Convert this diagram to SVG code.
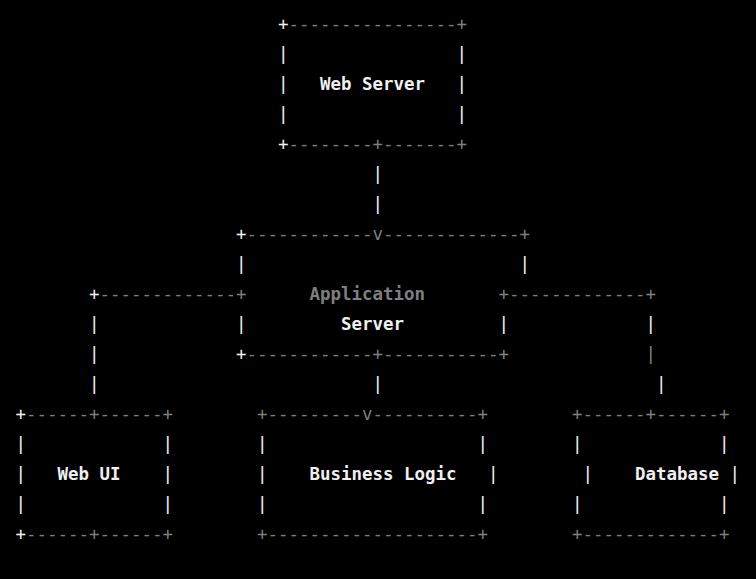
<svg xmlns="http://www.w3.org/2000/svg" width="756" height="579" viewBox="0 0 756 579">
<style>
text{font-family:"DejaVu Sans Mono","Liberation Mono",monospace;font-size:17.44px;white-space:pre}
.w{fill:#f0f0f0}
.g{fill:#7f7f7f}
.b{font-weight:bold}
</style>
<rect width="756" height="579" fill="#000"/>
<g id="web-server">
<text class="w" x="277.95" y="30">+</text><text class="g" x="288.45" y="30">----------------+</text>
<text class="w" x="277.95" y="60">|</text><text class="w" x="456.45" y="60">|</text>
<text class="w" x="277.95" y="90">|</text><text class="w b" x="319.95" y="90">Web Server</text><text class="w" x="456.45" y="90">|</text>
<text class="w" x="277.95" y="120">|</text><text class="w" x="456.45" y="120">|</text>
<text class="w" x="277.95" y="150">+</text><text class="g" x="288.45" y="150">--------+-------+</text>
</g>
<g id="application-server">
<text class="w" x="235.95" y="240">+</text><text class="g" x="246.45" y="240">------------v-------------+</text>
<text class="w" x="235.95" y="270">|</text><text class="w" x="519.45" y="270">|</text>
<text class="g b" x="309.45" y="300">Application</text>
<text class="w" x="235.95" y="330">|</text><text class="w b" x="340.95" y="330">Server</text><text class="w" x="498.45" y="330">|</text>
<text class="w" x="235.95" y="360">+</text><text class="g" x="246.45" y="360">------------+-----------+</text>
</g>
<g id="connectors">
<text class="w" x="372.45" y="180">|</text>
<text class="w" x="372.45" y="210">|</text>
<text class="w" x="88.95" y="300">+</text><text class="g" x="99.45" y="300">-------------+</text>
<text class="w" x="88.95" y="330">|</text>
<text class="w" x="88.95" y="360">|</text>
<text class="w" x="88.95" y="390">|</text>
<text class="g" x="498.45" y="300">+-------------+</text>
<text class="w" x="645.45" y="330">|</text>
<text class="g" x="645.45" y="360">|</text>
<text class="w" x="655.95" y="390">|</text>
<text class="w" x="372.45" y="390">|</text>
</g>
<g id="web-ui">
<text class="w" x="15.45" y="420">+</text><text class="g" x="25.95" y="420">------+------+</text>
<text class="w" x="15.45" y="450">|</text><text class="w" x="162.45" y="450">|</text>
<text class="w" x="15.45" y="480">|</text><text class="w b" x="57.45" y="480">Web UI</text><text class="w" x="162.45" y="480">|</text>
<text class="w" x="15.45" y="510">|</text><text class="w" x="162.45" y="510">|</text>
<text class="w" x="15.45" y="540">+</text><text class="g" x="25.95" y="540">------+------+</text>
</g>
<g id="business-logic">
<text class="g" x="256.95" y="420">+---------v----------+</text>
<text class="w" x="256.95" y="450">|</text><text class="w" x="477.45" y="450">|</text>
<text class="w" x="256.95" y="480">|</text><text class="w b" x="309.45" y="480">Business Logic</text><text class="w" x="487.95" y="480">|</text>
<text class="w" x="256.95" y="510">|</text><text class="w" x="477.45" y="510">|</text>
<text class="g" x="256.95" y="540">+--------------------+</text>
</g>
<g id="database">
<text class="g" x="571.95" y="420">+------+------+</text>
<text class="w" x="571.95" y="450">|</text><text class="w" x="718.95" y="450">|</text>
<text class="w" x="582.45" y="480">|</text><text class="w b" x="634.95" y="480">Database</text><text class="w" x="729.45" y="480">|</text>
<text class="w" x="571.95" y="510">|</text><text class="w" x="718.95" y="510">|</text>
<text class="g" x="571.95" y="540">+-------------+</text>
</g>
</svg>
